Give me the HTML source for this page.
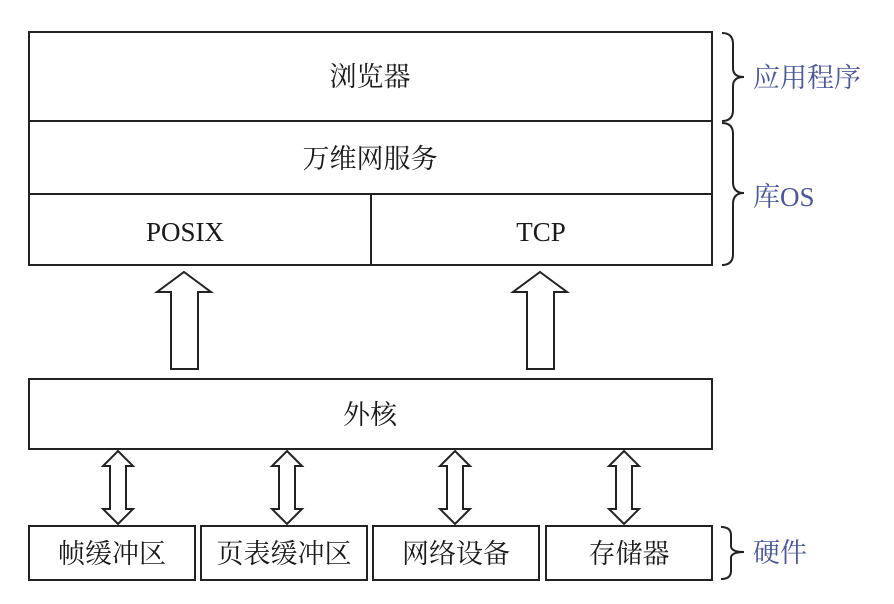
<!DOCTYPE html>
<html><head><meta charset="utf-8"><style>
html,body{margin:0;padding:0;background:#fff;}
</style></head><body>
<svg width="894" height="604" xmlns="http://www.w3.org/2000/svg" style="display:block">
<g fill="#fff" stroke="#222" stroke-width="2">
<rect x="29" y="32" width="683" height="233"/>
<line x1="29" y1="121" x2="712" y2="121"/>
<line x1="29" y1="194" x2="712" y2="194"/>
<line x1="371" y1="194" x2="371" y2="265"/>
<rect x="29" y="379" width="683" height="70"/>
<rect x="29" y="526" width="166" height="54"/>
<rect x="201" y="526" width="166" height="54"/>
<rect x="373" y="526" width="166" height="54"/>
<rect x="546" y="526" width="166" height="54"/>
<!-- up arrows -->
<path d="M184 272 L211 292 L198 292 L198 369 L171 369 L171 292 L157 292 Z"/>
<path d="M540 272 L567 292 L554 292 L554 369 L527 369 L527 292 L513 292 Z"/>
<!-- double arrows -->
<path d="M118 451 L133 466 L126 466 L126 509 L133 509 L118 524 L103 509 L110 509 L110 466 L103 466 Z"/>
<path d="M287 451 L302 466 L295 466 L295 509 L302 509 L287 524 L272 509 L279 509 L279 466 L272 466 Z"/>
<path d="M455 451 L470 466 L463 466 L463 509 L470 509 L455 524 L440 509 L447 509 L447 466 L440 466 Z"/>
<path d="M624 451 L639 466 L632 466 L632 509 L639 509 L624 524 L609 509 L616 509 L616 466 L609 466 Z"/>
</g>
<g fill="none" stroke="#222" stroke-width="2">
<path d="M722 33 Q733 33 733 44 L733 68 Q733 77 744 77 Q733 77 733 86 L733 110 Q733 121 722 121"/>
<path d="M722 123 Q733 123 733 134 L733 182 Q733 193 744 193 Q733 193 733 204 L733 254 Q733 265 722 265"/>
<path d="M721 527 Q731 527 731 535 L731 546 Q731 552 744 552 Q731 552 731 558 L731 571 Q731 579 721 579"/>
</g>
<g font-family="'Liberation Serif','Noto Serif CJK SC',serif" font-size="27" fill="#1a1a1a" text-anchor="middle">
<text x="370" y="86">浏览器</text>
<text x="370" y="168">万维网服务</text>
<text x="185" y="241">POSIX</text>
<text x="541" y="241">TCP</text>
<text x="370" y="424">外核</text>
<text x="112" y="563">帧缓冲区</text>
<text x="284" y="563">页表缓冲区</text>
<text x="456" y="563">网络设备</text>
<text x="629" y="563">存储器</text>
</g>
<g font-family="'Liberation Serif','Noto Serif CJK SC',serif" font-size="27" fill="#4a5896">
<text x="753" y="87">应用程序</text>
<text x="753" y="206">库OS</text>
<text x="753" y="562">硬件</text>
</g>
</svg>
</body></html>
